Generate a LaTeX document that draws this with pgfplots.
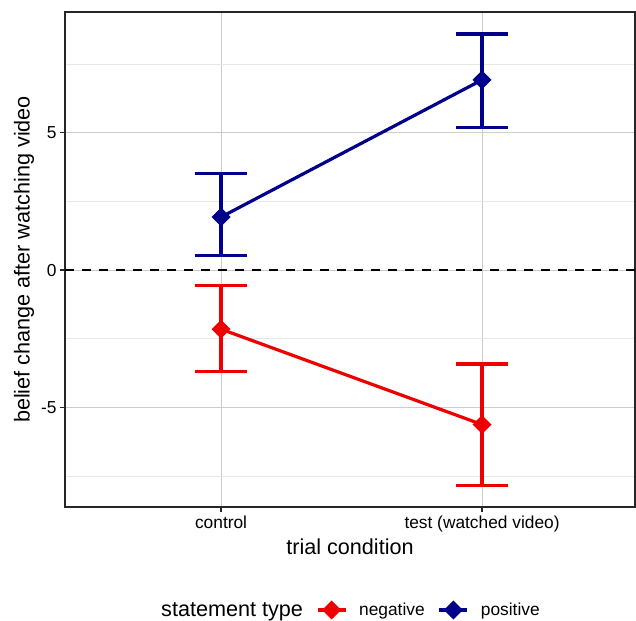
\documentclass[border=0pt]{standalone}
\usepackage{fontspec}
\setmainfont{Liberation Sans}
\usepackage{pgfplots}
\pgfplotsset{compat=1.18}
\usepackage{pgfplotstable}

\definecolor{negred}{RGB}{238,0,0}
\definecolor{posblue}{RGB}{0,0,139}

% mean and distance to the upper / lower end of the error bar
\pgfplotstableread{
x y ep em
1 -2.15 1.58 1.54
2 -5.62 2.20 2.21
}\negtab
\pgfplotstableread{
x y ep em
1 1.93 1.57 1.41
2 6.92 1.67 1.73
}\postab

\begin{document}
\begin{tikzpicture}
\useasboundingbox (0,0) rectangle (636bp,621bp);
\begin{axis}[
  at={(65bp,114bp)}, anchor=south west,
  scale only axis, width=570bp, height=495bp,
  xmin=0.402, xmax=2.586, ymin=-8.62, ymax=9.39,
  xtick={1,2}, xticklabels={control,test (watched video)},
  ytick={-5,0,5}, yticklabels={-5,0,5},
  minor ytick={-7.5,-2.5,2.5,7.5},
  grid=both,
  major grid style={gray!40, line width=0.7bp},
  minor grid style={gray!18, line width=0.6bp},
  axis line style={black!85, line width=1.2bp},
  tick style={black!85, line width=1.2bp},
  tick align=outside, major tick length=5bp, minor tick length=0pt,
  xtick pos=left, ytick pos=left,
  tick label style={font=\fontsize{17.4}{20}\selectfont},
  label style={font=\fontsize{21.7}{26}\selectfont},
  xlabel={trial condition},
  ylabel={belief change after watching video},
  legend columns=-1,
  legend style={at={(0.492,-0.208)}, anchor=center, draw=none, fill=none,
    font=\fontsize{17.4}{20}\selectfont,
    /tikz/every odd column/.append style={column sep=10bp},
    /tikz/every even column/.append style={column sep=11bp}},
  legend image code/.code={
    \draw[mark repeat=2, mark phase=2, #1] plot coordinates {(0bp,0bp) (14bp,0bp) (28bp,0bp)};
  },
]
\addlegendimage{empty legend}
\addlegendentry{\fontsize{21.7}{26}\selectfont statement type}

\addplot[black, line width=2.3bp, dash pattern=on 9bp off 8bp, forget plot]
  coordinates {(0.402,0) (2.586,0)};

\addplot[negred, line width=3.2bp, mark=square*, mark size=5.1bp,
  mark options={rotate=45, solid},
  error bars/.cd, y dir=both, y explicit,
  error bar style={line width=3.2bp},
  error mark options={negred, line width=3.2bp, mark size=26bp, rotate=90}]
  table[x=x, y=y, y error plus=ep, y error minus=em] {\negtab};
\addlegendentry{negative}

\addplot[posblue, line width=3.2bp, mark=square*, mark size=5.1bp,
  mark options={rotate=45, solid},
  error bars/.cd, y dir=both, y explicit,
  error bar style={line width=3.2bp},
  error mark options={posblue, line width=3.2bp, mark size=26bp, rotate=90}]
  table[x=x, y=y, y error plus=ep, y error minus=em] {\postab};
\addlegendentry{positive}
\end{axis}
\end{tikzpicture}
\end{document}
